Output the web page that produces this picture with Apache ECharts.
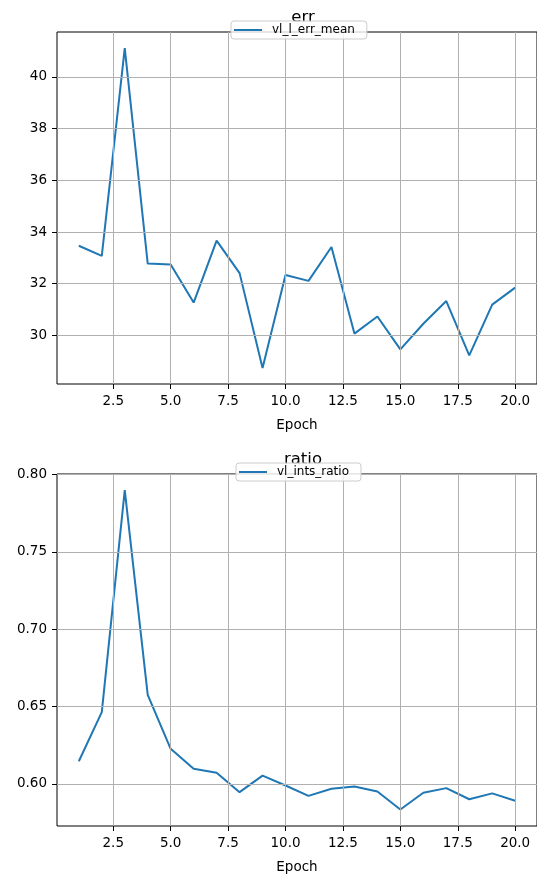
<!DOCTYPE html>
<html>
<head>
<meta charset="utf-8">
<script src="https://cdn.jsdelivr.net/npm/echarts@6/dist/echarts.min.js"></script>
<style>html,body{margin:0;padding:0;background:#fff}#c{width:537px;height:875px}</style>
</head>
<body>
<div id="c"></div>
<script>
const epochs = [1,2,3,4,5,6,7,8,9,10,11,12,13,14,15,16,17,18,19,20];
const errMean = [33.47,33.08,41.12,32.78,32.74,31.27,33.67,32.41,28.74,32.34,32.11,33.42,30.07,30.73,29.46,30.45,31.33,29.23,31.19,31.85];
const intsRatio = [0.6146,0.6464,0.790,0.6575,0.6226,0.6097,0.6071,0.5946,0.6053,0.5989,0.5922,0.5968,0.5983,0.5950,0.5834,0.5942,0.5972,0.5900,0.5938,0.5890];
const xTicks = [2.5,5,7.5,10,12.5,15,17.5,20];
const errTicks = [30,32,34,36,38,40];
const ratioTicks = [0.60,0.65,0.70,0.75,0.80];

const FONT = 'DejaVu Sans';
const BLUE = '#1f77b4';
const pairs = ys => epochs.map((x,i)=>[x, ys[i]]);

function xAxisCfg(gi){
  return {
    type:'value', gridIndex:gi, min:0.05, max:20.95,
    name:'Epoch', nameLocation:'middle', nameGap:34,
    nameTextStyle:{fontFamily:FONT, fontSize:13.5, color:'#000'},
    axisLine:{show:false},
    splitLine:{show:false},
    axisTick:{show:true, length:5, inside:false, customValues:xTicks, lineStyle:{color:'#000', width:1}},
    axisLabel:{show:true, margin:10, customValues:xTicks, fontFamily:FONT, fontSize:13.5, color:'#000',
      formatter:v=>Number(v).toFixed(1)}
  };
}
function yAxisCfg(gi,min,max,ticks,dec){
  return {
    type:'value', gridIndex:gi, min:min, max:max,
    axisLine:{show:false},
    splitLine:{show:false},
    axisTick:{show:true, length:5, inside:false, customValues:ticks, lineStyle:{color:'#000', width:1}},
    axisLabel:{show:true, margin:10, customValues:ticks, fontFamily:FONT, fontSize:13.5, color:'#000',
      formatter:v=>Number(v).toFixed(dec)}
  };
}
function gridLines(gi, ys, yTicks){
  return {
    type:'line', xAxisIndex:gi, yAxisIndex:gi, data:pairs(ys), z:1, silent:true,
    showSymbol:false, symbol:'none', lineStyle:{opacity:0}, animation:false,
    markLine:{silent:true, symbol:['none','none'], label:{show:false}, animation:false,
      lineStyle:{color:'#b0b0b0', width:1, type:'solid'},
      emphasis:{disabled:true},
      data:[...xTicks.map(v=>({xAxis:v})), ...yTicks.map(v=>({yAxis:v}))]}
  };
}
function dataSeries(gi, name, ys){
  return {
    type:'line', name:name, xAxisIndex:gi, yAxisIndex:gi, data:pairs(ys), z:3,
    showSymbol:false, symbol:'none', animation:false,
    lineStyle:{color:BLUE, width:2}, itemStyle:{color:BLUE}
  };
}
function legendCfg(name, left, top){
  return {
    data:[{name:name, icon:'rect'}], left:left, top:top, z:20, orient:'horizontal',
    itemWidth:28, itemHeight:2, itemGap:8,
    padding:[3,12,3,3],
    itemStyle:{color:BLUE},
    backgroundColor:'rgba(255,255,255,0.8)', borderColor:'#cccccc', borderWidth:1, borderRadius:3,
    textStyle:{fontFamily:FONT, fontSize:12, color:'#000', padding:[0,0,0,5]}
  };
}

const chart = echarts.init(document.getElementById('c'), null, {renderer:'canvas'});
chart.setOption({
  backgroundColor:'#fff',
  animation:false,
  title:[
    {text:'err', left:298, top:4, textAlign:'center', z:2, textStyle:{fontFamily:FONT, fontSize:16.5, fontWeight:'normal', color:'#000'}},
    {text:'ratio', left:298, top:446, textAlign:'center', z:2, textStyle:{fontFamily:FONT, fontSize:16.5, fontWeight:'normal', color:'#000'}}
  ],
  legend:[legendCfg('vl_l_err_mean', 231, 21), legendCfg('vl_ints_ratio', 236, 463)],
  grid:[
    {left:57, top:32, width:482, height:352, show:true, borderColor:'#000', borderWidth:1, backgroundColor:'transparent'},
    {left:57, top:474, width:482, height:353, show:true, borderColor:'#000', borderWidth:1, backgroundColor:'transparent'}
  ],
  xAxis:[xAxisCfg(0), xAxisCfg(1)],
  yAxis:[yAxisCfg(0,28.12,41.74,errTicks,0), yAxisCfg(1,0.5727,0.8004,ratioTicks,2)],
  series:[
    gridLines(0, errMean, errTicks),
    dataSeries(0, 'vl_l_err_mean', errMean),
    gridLines(1, intsRatio, ratioTicks),
    dataSeries(1, 'vl_ints_ratio', intsRatio)
  ]
});
</script>
</body>
</html>
